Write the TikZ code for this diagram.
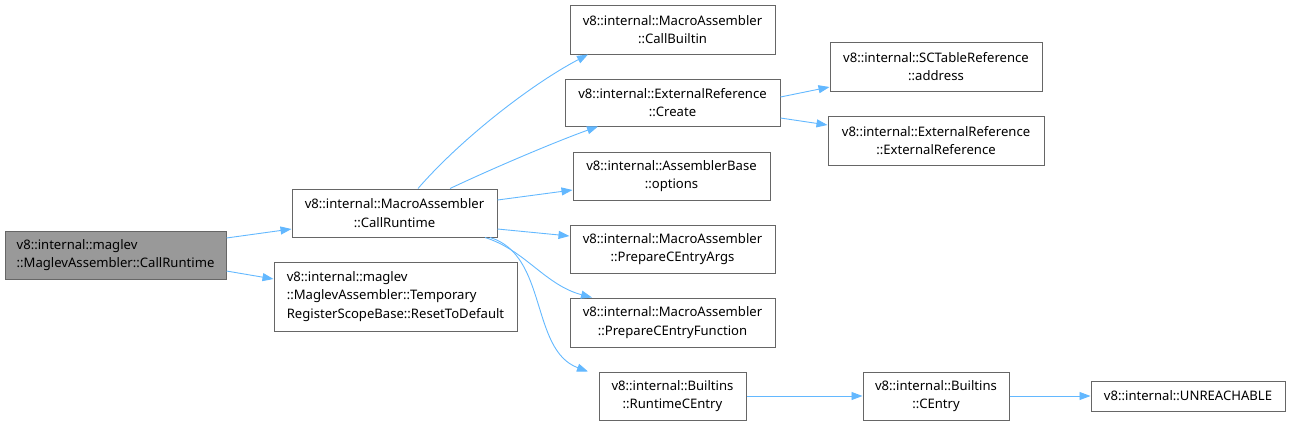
\documentclass[tikz,border=0pt]{standalone}
\usepackage{fontspec}
\setmainfont{Noto Sans}
\usetikzlibrary{arrows.meta}
\definecolor{edgeblue}{HTML}{63B8FF}
\definecolor{boxline}{HTML}{666666}
\tikzset{
    box/.style={draw=boxline, fill=white, line width=1pt, inner sep=0pt, align=center,
        font=\fontsize{13.1}{18.5}\selectfont},
    call/.style={draw=edgeblue, line width=0.9pt, -{Triangle[length=11pt,width=8pt]}},
}

\begin{document}
\begin{tikzpicture}[x=1pt, y=-1pt]
    \useasboundingbox (0,0) rectangle (1290,426);
    % nodes
    \node[box, fill=gray!80, minimum width=221pt, minimum height=48pt, align=left] (main) at (115.5,255)
        {v8::internal::maglev\\::MaglevAssembler::CallRuntime};
    \node[box, minimum width=205pt, minimum height=48pt] (callrt) at (394.5,213)
        {v8::internal::MacroAssembler\\::CallRuntime};
    \node[box, minimum width=243pt, minimum height=69pt, align=left] (reset) at (395.5,296.5)
        {v8::internal::maglev\\::MaglevAssembler::Temporary\\RegisterScopeBase::ResetToDefault};
    \node[box, minimum width=205pt, minimum height=49pt] (builtin) at (672.5,29.5)
        {v8::internal::MacroAssembler\\::CallBuiltin};
    \node[box, minimum width=215pt, minimum height=47pt] (create) at (672.5,102.5)
        {v8::internal::ExternalReference\\::Create};
    \node[box, minimum width=197pt, minimum height=48pt] (options) at (671.5,176)
        {v8::internal::AssemblerBase\\::options};
    \node[box, minimum width=205pt, minimum height=48pt] (args) at (672.5,249)
        {v8::internal::MacroAssembler\\::PrepareCEntryArgs};
    \node[box, minimum width=205pt, minimum height=49pt] (func) at (672.5,322.5)
        {v8::internal::MacroAssembler\\::PrepareCEntryFunction};
    \node[box, minimum width=147pt, minimum height=48pt] (rce) at (672.5,396)
        {v8::internal::Builtins\\::RuntimeCEntry};
    \node[box, minimum width=212pt, minimum height=49pt] (sct) at (936,66.5)
        {v8::internal::SCTableReference\\::address};
    \node[box, minimum width=216pt, minimum height=49pt] (extref) at (936,140.5)
        {v8::internal::ExternalReference\\::ExternalReference};
    \node[box, minimum width=146pt, minimum height=48pt] (centry) at (936,396)
        {v8::internal::Builtins\\::CEntry};
    \node[box, minimum width=194pt, minimum height=30pt] (unreach) at (1188,396)
        {v8::internal::UNREACHABLE};
    % edges
    \draw[call] (main.east |- 0,238) -- (callrt.west |- 0,229);
    \draw[call] (main.east |- 0,271) -- (reset.west |- 0,279);
    \draw[call] (callrt.north -| 418,0) .. controls (460,140) and (530,85) .. (builtin.south -| 588,0);
    \draw[call] (callrt.north -| 450,0) .. controls (500,165) and (560,140) .. (create.south -| 598,0);
    \draw[call] (callrt.east |- 0,200) -- (options.west |- 0,190);
    \draw[call] (callrt.east |- 0,229) -- (args.west |- 0,236);
    \draw[call] (callrt.south -| 485,0) .. controls (525,250) and (545,285) .. (func.north -| 592,0);
    \draw[call] (callrt.south -| 490,0) .. controls (548,255) and (530,350) .. (rce.north -| 588,0);
    \draw[call] (create.east |- 0,97) -- (sct.west |- 0,87);
    \draw[call] (create.east |- 0,118) -- (extref.west |- 0,125);
    \draw[call] (rce) -- (centry);
    \draw[call] (centry) -- (unreach);
\end{tikzpicture}
\end{document}
